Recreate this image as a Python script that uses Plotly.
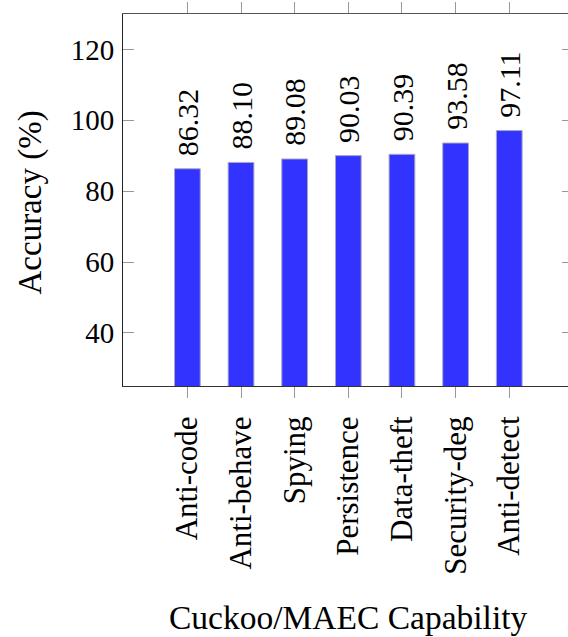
import plotly.graph_objects as go

# Capability categories and detection accuracy (%)
categories = ["Anti-code", "Anti-behave", "Spying", "Persistence",
              "Data-theft", "Security-deg", "Anti-detect"]
accuracy = [86.32, 88.10, 89.08, 90.03, 90.39, 93.58, 97.11]
y_ticks = [40, 60, 80, 100, 120]

FONT = "'Liberation Serif', 'Times New Roman', serif"
W, H = 568, 637
ML, MR, MT, MB = 123, 0, 14, 251
PW, PH = W - ML - MR, H - MT - MB

positions = list(range(len(categories)))


def px_x(px):
    return (px - ML) / PW


def px_y(py):
    return (H - MB - py) / PH


fig = go.Figure()
fig.add_trace(go.Bar(
    x=positions, y=accuracy, width=0.48,
    marker=dict(color="#3333ff", line=dict(color="#a8a8c4", width=1)),
    showlegend=False, hoverinfo="skip",
))
# carrier trace for the mirrored top/right axes
fig.add_trace(go.Scatter(x=[], y=[], xaxis="x2", yaxis="y2",
                         showlegend=False, hoverinfo="skip"))

xr = [-1.2, 7.095]
yr = [25, 130]

fig.update_layout(
    width=W, height=H,
    margin=dict(l=ML, r=MR, t=MT, b=MB, pad=0),
    paper_bgcolor="white", plot_bgcolor="white",
    font=dict(family=FONT, color="black"),
    xaxis=dict(
        range=xr, tickmode="array", tickvals=positions, ticktext=categories,
        tickangle=-90, ticks="outside", ticklen=11, tickcolor="#999",
        tickfont=dict(size=31, family=FONT), showgrid=False, zeroline=False,
        showline=True, linecolor="#333", linewidth=1, ticklabelstandoff=6,
    ),
    xaxis2=dict(
        range=xr, overlaying="x", side="top", tickmode="array",
        tickvals=positions, ticks="outside", ticklen=11, tickcolor="#999",
        showticklabels=False, showgrid=False, zeroline=False,
        showline=True, linecolor="#555", linewidth=1,
    ),
    yaxis=dict(
        range=yr, tickmode="array", tickvals=y_ticks,
        ticks="inside", ticklen=11, tickcolor="#999",
        tickfont=dict(size=29, family=FONT), showgrid=False, zeroline=False,
        showline=True, linecolor="#222", linewidth=1, ticklabelstandoff=2,
    ),
    yaxis2=dict(
        range=yr, overlaying="y", side="right", tickmode="array",
        tickvals=y_ticks, ticks="inside", ticklen=6, tickcolor="#999",
        showticklabels=False, showgrid=False, zeroline=False, showline=False,
    ),
)

# value labels above each bar
for xi, v in zip(positions, accuracy):
    fig.add_annotation(
        x=xi, y=v, xref="x", yref="y", text=f"{v:.2f}", textangle=-90,
        showarrow=False, xanchor="center", yanchor="bottom", yshift=11,
        font=dict(size=30, family=FONT, color="black"),
    )

fig.add_annotation(
    x=px_x(347.5), y=px_y(617), xref="paper", yref="paper",
    text="Cuckoo/MAEC Capability", showarrow=False,
    xanchor="center", yanchor="middle",
    font=dict(size=33.5, family=FONT, color="black"),
)
fig.add_annotation(
    x=px_x(30), y=px_y(202.5), xref="paper", yref="paper",
    text="Accuracy (%)", textangle=-90, showarrow=False,
    xanchor="center", yanchor="middle",
    font=dict(size=33, family=FONT, color="black"),
)

fig.write_html("out.html")
